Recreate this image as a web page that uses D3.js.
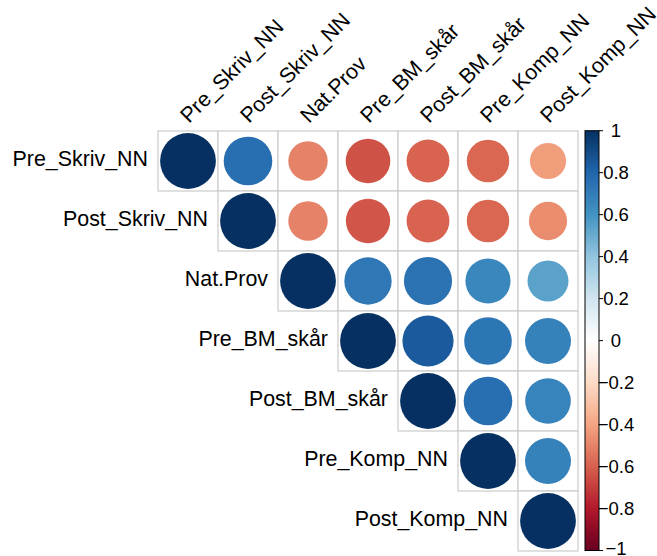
<!DOCTYPE html>
<html>
<head>
<meta charset="utf-8">
<script src="https://cdn.jsdelivr.net/npm/d3@7"></script>
<style>
  html, body { margin: 0; padding: 0; background: #ffffff; }
  svg { display: block; font-family: "Liberation Sans", Arial, Helvetica, sans-serif; }
</style>
</head>
<body>
<svg id="chart" width="657" height="556"></svg>
<script>
// Variables shown on both axes
const variables = ["Pre_Skriv_NN", "Post_Skriv_NN", "Nat.Prov", "Pre_BM_skår",
                   "Post_BM_skår", "Pre_Komp_NN", "Post_Komp_NN"];

// Upper-triangle correlations, one array per row (starting at the diagonal)
const rowPreSkriv  = [1, 0.76, -0.50, -0.64, -0.59, -0.58, -0.42];
const rowPostSkriv = [1, -0.50, -0.63, -0.59, -0.58, -0.47];
const rowNatProv   = [1, 0.72, 0.745, 0.655, 0.54];
const rowPreBM     = [1, 0.84, 0.73, 0.68];
const rowPostBM    = [1, 0.76, 0.67];
const rowPreKomp   = [1, 0.68];
const rowPostKomp  = [1];
const upperRows = [rowPreSkriv, rowPostSkriv, rowNatProv, rowPreBM, rowPostBM, rowPreKomp, rowPostKomp];

// Colour legend ticks
const legendTicks = [-1, -0.8, -0.6, -0.4, -0.2, 0, 0.2, 0.4, 0.6, 0.8, 1];
const legendLabels = ["\u22121", "\u22120.8", "\u22120.6", "\u22120.4", "\u22120.2", "0",
                      "0.2", "0.4", "0.6", "0.8", "1"];

// RdBu diverging palette anchors
const paletteStops = ["#67001F", "#B2182B", "#D6604D", "#F4A582", "#FDDBC7", "#FFFFFF",
                      "#D1E5F0", "#92C5DE", "#4393C3", "#2166AC", "#053061"];

const svg = d3.select("#chart");

const color = d3.scaleLinear()
  .domain(d3.range(paletteStops.length).map(i => -1 + i * 0.2))
  .range(paletteStops)
  .interpolate(d3.interpolateRgb)
  .clamp(true);

const x = d3.scaleBand().domain(variables).range([158, 578]).padding(0);
const y = d3.scaleBand().domain(variables).range([131, 551]).padding(0);
const cell = x.bandwidth();
const radius = v => 0.465 * cell * Math.sqrt(Math.abs(v));

// Flatten the upper triangle into cells
const cells = [];
upperRows.forEach((vals, i) => {
  vals.forEach((v, k) => {
    const j = i + k;
    cells.push({ row: variables[i], col: variables[j], value: v });
  });
});

// Cell backgrounds with grid lines
svg.append("g")
  .selectAll("rect")
  .data(cells)
  .join("rect")
  .attr("x", d => x(d.col))
  .attr("y", d => y(d.row))
  .attr("width", cell)
  .attr("height", cell)
  .attr("fill", "#ffffff")
  .attr("stroke", "#cccccc")
  .attr("stroke-width", 1.2);

// Correlation circles
svg.append("g")
  .selectAll("circle")
  .data(cells)
  .join("circle")
  .attr("cx", d => x(d.col) + cell / 2)
  .attr("cy", d => y(d.row) + cell / 2)
  .attr("r", d => radius(d.value))
  .attr("fill", d => color(d.value));

// Row labels, right-aligned against the first cell of each row
svg.append("g")
  .selectAll("text")
  .data(variables)
  .join("text")
  .attr("x", d => x(d) - 10)
  .attr("y", d => y(d) + cell / 2 + 5)
  .attr("text-anchor", "end")
  .attr("font-size", 21.4)
  .attr("fill", "#000")
  .text(d => d);

// Column labels, rotated 45 degrees
svg.append("g")
  .selectAll("text")
  .data(variables)
  .join("text")
  .attr("transform", d => `translate(${x(d) + cell / 2 + 1},124) rotate(-45)`)
  .attr("text-anchor", "start")
  .attr("font-size", 21.4)
  .attr("fill", "#000")
  .text(d => d);

// Colour legend
const legendX = 585, legendW = 14;
const ly = d3.scaleLinear().domain([-1, 1]).range([550.5, 130.7]);

const defs = svg.append("defs");
const grad = defs.append("linearGradient")
  .attr("id", "rdbu")
  .attr("x1", 0).attr("y1", 1).attr("x2", 0).attr("y2", 0);
grad.selectAll("stop")
  .data(d3.range(0, 1.0001, 0.02))
  .join("stop")
  .attr("offset", t => t)
  .attr("stop-color", t => color(-1 + 2 * t));

svg.append("rect")
  .attr("x", legendX)
  .attr("y", ly(1))
  .attr("width", legendW)
  .attr("height", ly(-1) - ly(1))
  .attr("fill", "url(#rdbu)")
  .attr("stroke", "#000")
  .attr("stroke-width", 1);

const lg = svg.append("g");
lg.selectAll("line")
  .data(legendTicks)
  .join("line")
  .attr("x1", legendX + legendW)
  .attr("x2", legendX + legendW + 4)
  .attr("y1", d => ly(d))
  .attr("y2", d => ly(d))
  .attr("stroke", "#000")
  .attr("stroke-width", 1);

lg.selectAll("text")
  .data(legendTicks)
  .join("text")
  .attr("x", 616)
  .attr("y", d => Math.min(ly(d) + 6.5, 555))
  .attr("text-anchor", "middle")
  .attr("font-size", 18.5)
  .attr("fill", "#000")
  .text((d, i) => legendLabels[i]);
</script>
</body>
</html>
